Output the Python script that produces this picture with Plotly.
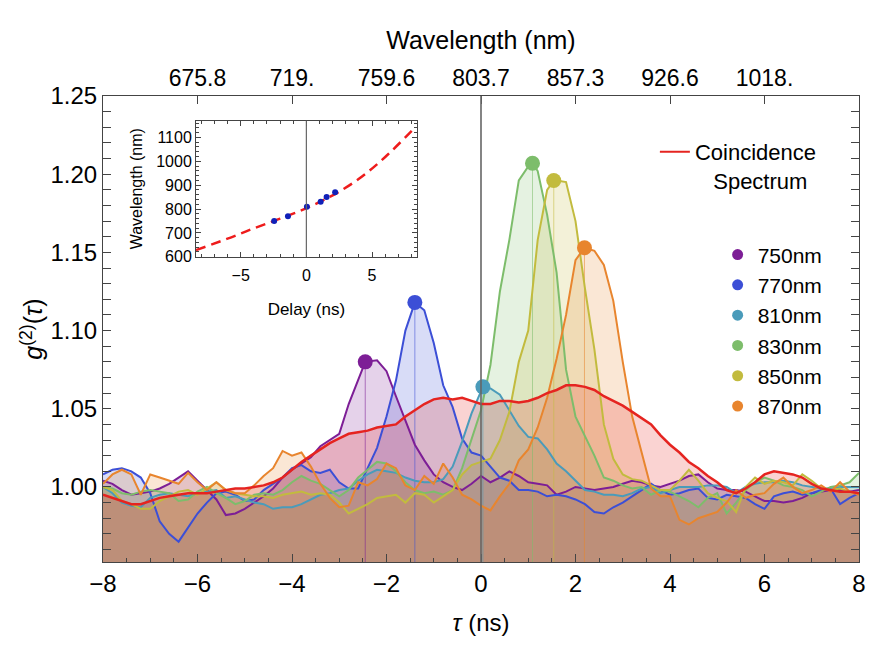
import numpy as np
import plotly.graph_objects as go

# ---------------- data ----------------
tau = np.round(np.arange(-8.0, 8.001, 0.2), 1)

g750 = [1.004, 1.002, 0.998, 0.995, 0.996, 0.997, 0.999, 1.002, 1.006, 1.010,
        1.004, 0.998, 0.992, 0.982, 0.983, 0.986, 0.990, 0.994, 0.999, 1.006,
        1.011, 1.015, 1.019, 1.026, 1.030, 1.034, 1.053, 1.069, 1.080, 1.081,
        1.074, 1.058, 1.042, 1.027, 1.017, 1.008, 1.003, 1.000, 0.998, 1.002,
        1.007, 1.003, 1.006, 1.010, 1.007, 1.003, 1.002, 1.001, 0.995, 0.997,
        1.000, 0.999, 0.998, 0.999, 1.000, 1.002, 1.004, 1.003, 1.001, 1.000,
        1.002, 1.004, 1.007, 1.008, 1.003, 0.999, 0.998, 0.998, 0.997, 0.994,
        0.991, 0.991, 0.990, 0.991, 0.993, 0.996, 0.997, 0.998, 0.998, 0.997,
        0.998]

g770 = [1.008, 1.011, 1.012, 1.010, 1.006, 0.996, 0.978, 0.970, 0.965, 0.974,
        0.983, 0.990, 0.996, 0.997, 0.995, 0.991, 0.992, 0.998, 1.002, 1.006,
        1.012, 1.014, 1.010, 1.009, 1.011, 1.003, 0.999, 0.999, 1.012, 1.025,
        1.045, 1.068, 1.100, 1.118, 1.113, 1.092, 1.065, 1.051, 1.031, 1.022,
        1.020, 1.013, 1.006, 1.004, 0.998, 0.998, 0.997, 0.994, 0.995, 0.994,
        0.992, 0.989, 0.984, 0.983, 0.987, 0.990, 0.994, 0.998, 1.002, 0.998,
        0.995, 0.996, 0.998, 0.999, 0.993, 0.992, 0.995, 0.994, 0.993, 0.989,
        0.986, 0.994, 0.996, 0.997, 0.995, 0.996, 0.998, 0.999, 0.989, 0.993,
        0.996]

g810 = [1.000, 0.996, 0.990, 0.988, 0.987, 0.993, 0.995, 0.996, 0.995, 0.994,
        0.996, 0.997, 0.998, 0.993, 0.994, 0.992, 0.990, 0.989, 0.986, 0.987,
        0.987, 0.989, 0.992, 0.995, 0.996, 0.998, 0.999, 1.004, 1.008, 1.011,
        1.010, 1.009, 1.006, 1.004, 1.003, 1.003, 1.005, 1.013, 1.029, 1.047,
        1.062, 1.063, 1.059, 1.049, 1.039, 1.032, 1.031, 1.024, 1.015, 1.010,
        1.004, 0.998, 0.997, 0.995, 0.995, 0.994, 0.996, 0.999, 1.000, 0.996,
        0.998, 1.000, 1.000, 1.000, 1.001, 1.001, 1.000, 0.996, 1.000, 1.002,
        1.003, 1.003, 1.004, 1.003, 1.001, 1.000, 0.999, 0.999, 1.000, 1.000,
        1.000]

g830 = [1.000, 0.999, 0.996, 0.995, 0.997, 0.998, 0.997, 0.996, 0.991, 0.992,
        0.997, 1.000, 0.996, 0.993, 0.989, 0.991, 0.995, 0.996, 0.995, 0.998,
        1.003, 1.007, 1.004, 1.002, 0.998, 0.994, 0.998, 1.006, 1.011, 1.016,
        1.015, 1.010, 1.003, 0.998, 0.996, 0.997, 0.995, 0.998, 1.012, 1.030,
        1.049, 1.078, 1.125, 1.158, 1.196, 1.205, 1.202, 1.174, 1.137, 1.075,
        1.045, 1.033, 1.020, 1.006, 1.004, 1.001, 0.999, 1.000, 0.995, 0.998,
        0.997, 0.994, 0.991, 0.987, 0.993, 0.996, 0.983, 0.990, 0.998, 1.003,
        1.006, 1.004, 1.001, 1.000, 0.998, 0.994, 0.997, 1.000, 1.001, 1.003,
        1.009]

g850 = [1.000, 0.998, 0.991, 0.989, 0.986, 0.986, 0.991, 0.994, 0.997, 0.998,
        0.995, 0.999, 1.003, 0.998, 0.996, 0.995, 0.994, 0.994, 0.993, 0.995,
        0.996, 0.997, 0.995, 0.996, 0.995, 0.990, 0.983, 0.986, 0.989, 0.993,
        0.994, 0.995, 0.990, 0.996, 0.995, 0.990, 0.994, 0.998, 1.008, 1.014,
        1.016, 1.018, 1.030, 1.048, 1.080, 1.100, 1.158, 1.190, 1.196, 1.195,
        1.170, 1.127, 1.088, 1.040, 1.018, 1.008, 1.005, 1.004, 1.001, 0.998,
        0.998, 1.004, 1.011, 1.004, 0.996, 0.993, 0.991, 0.984, 1.000, 1.006,
        1.002, 1.004, 1.003, 1.001, 1.008, 1.004, 0.999, 0.998, 0.999, 0.997,
        0.996]

g870 = [1.002, 1.008, 1.011, 1.008, 0.995, 1.008, 1.006, 1.004, 1.002, 1.009,
        1.003, 0.998, 1.003, 0.998, 0.996, 0.996, 1.001, 1.007, 1.012, 1.023,
        1.020, 1.022, 1.013, 1.002, 0.993, 0.987, 0.988, 1.003, 1.001, 1.005,
        1.015, 1.012, 1.001, 0.998, 1.007, 1.002, 1.015, 1.006, 0.995, 0.992,
        0.988, 0.985, 0.994, 1.002, 1.017, 1.024, 1.038, 1.057, 1.082, 1.110,
        1.145, 1.153, 1.151, 1.142, 1.119, 1.080, 1.045, 1.022, 0.999, 0.994,
        0.994, 0.979, 0.976, 0.980, 0.982, 0.984, 0.990, 0.998, 0.993, 0.995,
        0.996, 1.002, 1.006, 1.000, 0.996, 0.998, 1.001, 0.997, 1.003, 0.997,
        0.995]

g_coinc = [0.995, 0.993, 0.991, 0.989, 0.989, 0.991, 0.993, 0.994, 0.995, 0.996,
           0.996, 0.996, 0.997, 0.998, 0.999, 0.999, 1.000, 1.001, 1.003, 1.006,
           1.011, 1.016, 1.020, 1.024, 1.028, 1.031, 1.034, 1.035, 1.036, 1.038,
           1.039, 1.040, 1.045, 1.049, 1.053, 1.056, 1.057, 1.056, 1.057, 1.055,
           1.053, 1.053, 1.055, 1.055, 1.054, 1.055, 1.057, 1.060, 1.062, 1.065,
           1.065, 1.064, 1.062, 1.058, 1.055, 1.052, 1.048, 1.044, 1.040, 1.033,
           1.027, 1.022, 1.016, 1.012, 1.007, 1.003, 0.998, 0.996, 0.999, 1.003,
           1.008, 1.010, 1.009, 1.008, 1.006, 1.002, 0.999, 0.998, 0.997, 0.997,
           0.996]

labels = ["750nm", "770nm", "810nm", "830nm", "850nm", "870nm"]
series = [g750, g770, g810, g830, g850, g870]
peak_tau = [-2.45, -1.40, 0.04, 1.09, 1.54, 2.19]
peak_g = [1.080, 1.118, 1.064, 1.207, 1.196, 1.153]
colors = ["#7D1E96", "#3C4FD6", "#4A9BBA", "#7DBD6B", "#C2BB3E", "#E8852E"]
red = "#E52420"

# top axis (wavelength mapping)
top_tick_tau = [-6, -4, -2, 0, 2, 4, 6]
top_tick_text = ["675.8", "719.", "759.6", "803.7", "857.3", "926.6", "1018."]

# inset: delay -> wavelength calibration
cal_delay = [-8.4, -6, -4, -2, 0, 2, 4, 6, 8.2]
cal_wl = [628, 675.8, 719.0, 759.6, 803.7, 857.3, 926.6, 1018.0, 1138]
meas_wl = [750, 770, 810, 830, 850, 870]

Y_RANGE = [0.952, 1.25]
FONT = "Liberation Sans, Arial, sans-serif"


def rgba(hexc, a):
    h = hexc.lstrip("#")
    r, g, b = int(h[0:2], 16), int(h[2:4], 16), int(h[4:6], 16)
    return f"rgba({r},{g},{b},{a})"


def with_peak(xs, ys, px, py):
    pts = [(x, y) for x, y in zip(xs, ys) if abs(x - px) > 0.06]
    pts.append((px, py))
    pts.sort()
    return [p[0] for p in pts], [p[1] for p in pts]


fig = go.Figure()

curves = []
for s, c, pt, pg in zip(series, colors, peak_tau, peak_g):
    xs, ys = with_peak(list(tau), s, pt, pg)
    curves.append((xs, ys, c, 2.0))
curves.append((list(tau), g_coinc, red, 2.5))

# fills first (all beneath every line)
for xs, ys, c, w in curves:
    fig.add_trace(go.Scatter(x=xs, y=ys, mode="none", fill="tozeroy",
                             fillcolor=rgba(c, 0.2),
                             showlegend=False, hoverinfo="skip"))

# drop lines from peaks
for c, pt, pg in zip(colors, peak_tau, peak_g):
    fig.add_trace(go.Scatter(x=[pt, pt], y=[Y_RANGE[0] - 0.01, pg], mode="lines",
                             line=dict(color=rgba(c, 0.55), width=1),
                             showlegend=False, hoverinfo="skip"))

# lines on top of the fills
for xs, ys, c, w in curves:
    fig.add_trace(go.Scatter(x=xs, y=ys, mode="lines",
                             line=dict(color=c, width=w),
                             showlegend=False, hoverinfo="skip"))

# vertical line at zero delay
fig.add_shape(type="line", xref="x", yref="y domain", x0=0, x1=0, y0=0, y1=1,
              line=dict(color="#666666", width=1.6), layer="above")

# peak markers
for c, pt, pg in zip(colors, peak_tau, peak_g):
    fig.add_trace(go.Scatter(x=[pt], y=[pg], mode="markers",
                             marker=dict(color=c, size=15),
                             showlegend=False, hoverinfo="skip"))

# legend entries
fig.add_trace(go.Scatter(x=[None], y=[None], mode="lines",
                         line=dict(color=red, width=2),
                         name="Coincidence<br>\u00a0\u00a0\u00a0Spectrum",
                         legend="legend"))
for c, lab in zip(colors, labels):
    fig.add_trace(go.Scatter(x=[None], y=[None], mode="markers",
                             marker=dict(color=c, size=11),
                             name=lab, legend="legend2"))

# hidden trace binding the top axis
fig.add_trace(go.Scatter(x=[None], y=[None], xaxis="x2", yaxis="y",
                         showlegend=False, hoverinfo="skip"))

# inset
fig.add_trace(go.Scatter(x=cal_delay, y=cal_wl, mode="lines",
                         line=dict(color="#EE1C1C", width=2.5, dash="10px,6px",
                                   shape="spline"),
                         xaxis="x3", yaxis="y3", showlegend=False,
                         hoverinfo="skip"))
fig.add_trace(go.Scatter(x=peak_tau, y=meas_wl, mode="markers",
                         marker=dict(color="#1020B8", size=6),
                         xaxis="x3", yaxis="y3", showlegend=False,
                         hoverinfo="skip"))
fig.add_shape(type="line", xref="x3", yref="y3 domain", x0=0, x1=0, y0=0, y1=1,
              line=dict(color="#666", width=1.2))

axcol = "#444"
fig.update_layout(
    width=886, height=665,
    margin=dict(l=103, r=27, t=96, b=103),
    paper_bgcolor="white", plot_bgcolor="white",
    font=dict(family=FONT, color="black", size=22),
    xaxis=dict(range=[-8, 8], dtick=2, tick0=0, ticks="inside", ticklen=8,
               tickcolor=axcol, showline=True, linecolor=axcol, mirror=True,
               showgrid=False, zeroline=False,
               tickfont=dict(size=24),
               minor=dict(dtick=0.5, ticks="inside", ticklen=4, tickcolor=axcol),
               title=dict(text="<i>τ</i> (ns)", font=dict(size=24), standoff=18)),
    xaxis2=dict(range=[-8, 8], overlaying="x", side="top", anchor="y",
                tickmode="array", tickvals=top_tick_tau, ticktext=top_tick_text,
                ticks="inside", ticklen=8, tickcolor=axcol, showgrid=False,
                zeroline=False, showline=False, tickfont=dict(size=23),
                ticklabelstandoff=4,
                title=dict(text="Wavelength (nm)", font=dict(size=25), standoff=8)),
    yaxis=dict(range=Y_RANGE, tick0=1.0, dtick=0.05, tickformat=".2f",
               ticks="inside", ticklen=8, tickcolor=axcol, showline=True,
               linecolor=axcol, mirror="allticks", showgrid=False, zeroline=False,
               tickfont=dict(size=24),
               minor=dict(dtick=0.01, tick0=1.0, ticks="inside", ticklen=4,
                          tickcolor=axcol),
               title=dict(text="<i>g</i><sup>(2)</sup>(<i>τ</i>)",
                          font=dict(size=25), standoff=0)),
    xaxis3=dict(domain=[0.123, 0.415], anchor="y3", range=[-8.4, 8.4],
                tickvals=[-5, 0, 5], ticks="inside", ticklen=5, tickcolor=axcol,
                showline=True, linecolor=axcol, mirror="allticks", showgrid=False,
                zeroline=False, tickfont=dict(size=16), ticklabelstandoff=4,
                minor=dict(dtick=1, ticks="inside", ticklen=3, tickcolor=axcol),
                title=dict(text="Delay (ns)", font=dict(size=17), standoff=20)),
    yaxis3=dict(domain=[0.655, 0.947], anchor="x3", range=[600, 1170],
                tickvals=[600, 700, 800, 900, 1000, 1100], ticks="inside",
                ticklen=5, tickcolor=axcol, showline=True, linecolor=axcol,
                mirror="allticks", showgrid=False, zeroline=False,
                tickfont=dict(size=16),
                minor=dict(dtick=20, ticks="inside", ticklen=3, tickcolor=axcol),
                title=dict(text="Wavelength (nm)", font=dict(size=16), standoff=9)),
    legend=dict(x=0.73, y=0.925, xanchor="left", yanchor="top",
                bgcolor="rgba(0,0,0,0)", font=dict(size=22), valign="top"),
    legend2=dict(x=0.813, y=0.703, xanchor="left", yanchor="top",
                 bgcolor="rgba(0,0,0,0)", font=dict(size=21)),
)

fig.write_html("out.html")
